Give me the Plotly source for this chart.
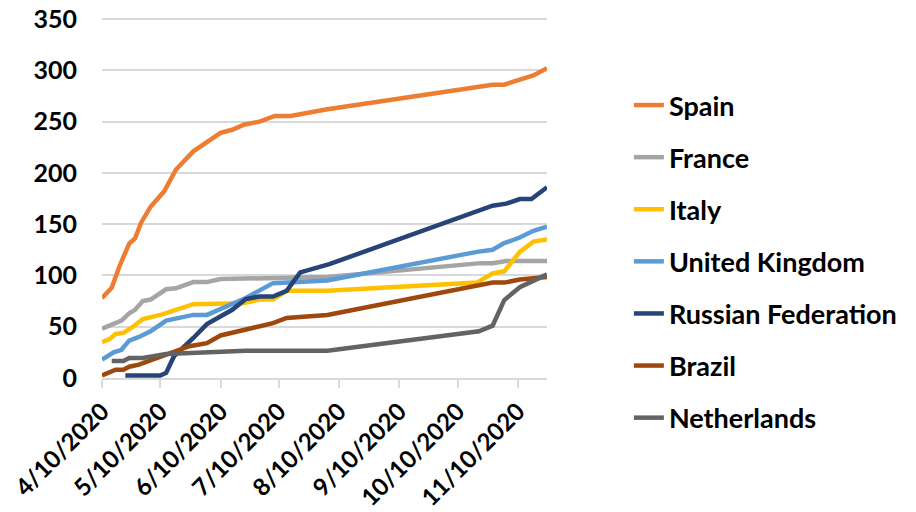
import plotly.graph_objects as go

series_names = ["Spain", "France", "Italy", "United Kingdom", "Russian Federation", "Brazil", "Netherlands"]
series_colors = ["#ED7D31", "#A5A5A5", "#FFC000", "#5B9BD5", "#264478", "#9E480E", "#636363"]

spain_dates = ["2020-04-10", "2020-04-15", "2020-04-19", "2020-04-24", "2020-04-27", "2020-04-30", "2020-05-05",
               "2020-05-12", "2020-05-18", "2020-05-27", "2020-06-03", "2020-06-10", "2020-06-16", "2020-06-22",
               "2020-06-30", "2020-07-08", "2020-07-16", "2020-07-21", "2020-08-04", "2020-10-28", "2020-11-03",
               "2020-11-11", "2020-11-18", "2020-11-25"]
spain_vals = [78, 88, 109, 131, 136, 151, 167, 182, 203, 221, 230, 239, 242, 247, 250, 255.5, 255.5, 257, 262,
              286, 286, 291, 295, 302]

france_dates = ["2020-04-10", "2020-04-16", "2020-04-20", "2020-04-24", "2020-04-27", "2020-05-01", "2020-05-05",
                "2020-05-13", "2020-05-18", "2020-05-27", "2020-06-03", "2020-06-10", "2020-08-04", "2020-10-22",
                "2020-10-28", "2020-11-04", "2020-11-25"]
france_vals = [48, 52.6, 56, 63, 66.5, 75, 76.5, 86.5, 87.5, 93.5, 93.5, 96.5, 98.5, 112, 112, 114, 114]

italy_dates = ["2020-04-10", "2020-04-14", "2020-04-17", "2020-04-21", "2020-04-26", "2020-05-01", "2020-05-11",
               "2020-05-18", "2020-05-27", "2020-06-22", "2020-06-30", "2020-07-07", "2020-07-14", "2020-08-04",
               "2020-10-20", "2020-10-28", "2020-11-03", "2020-11-11", "2020-11-18", "2020-11-25"]
italy_vals = [35, 38, 43, 44, 50, 57.5, 62, 66.5, 72, 73, 76.5, 76.5, 85, 85, 93, 102, 104, 123, 133, 135]

uk_dates = ["2020-04-10", "2020-04-16", "2020-04-20", "2020-04-24", "2020-04-29", "2020-05-05", "2020-05-13",
            "2020-05-22", "2020-05-27", "2020-06-03", "2020-06-13", "2020-06-23", "2020-07-07", "2020-08-04",
            "2020-10-20", "2020-10-28", "2020-11-03", "2020-11-11", "2020-11-18", "2020-11-25"]
uk_vals = [18, 25, 27.5, 36.5, 40, 45.5, 56, 60, 61.5, 61.5, 69.5, 78, 92.5, 95, 123, 125, 131.5, 137, 143.5, 147.5]

russia_dates = ["2020-04-22", "2020-05-10", "2020-05-13", "2020-05-17", "2020-05-27", "2020-06-03", "2020-06-16",
                "2020-06-23", "2020-06-30", "2020-07-07", "2020-07-14", "2020-07-21", "2020-08-05", "2020-10-28",
                "2020-11-04", "2020-11-11", "2020-11-17", "2020-11-25"]
russia_vals = [2.5, 2.5, 5, 21, 39, 52.5, 66.5, 77, 79.5, 79.5, 85, 103, 111, 168, 170, 174.5, 174.5, 186]

brazil_dates = ["2020-04-10", "2020-04-17", "2020-04-21", "2020-04-24", "2020-04-29", "2020-05-17", "2020-05-25",
                "2020-06-03", "2020-06-10", "2020-07-07", "2020-07-14", "2020-08-04", "2020-10-28", "2020-11-03",
                "2020-11-11", "2020-11-25"]
brazil_vals = [2.5, 8, 8, 11, 13, 26, 31, 34, 41.5, 53.5, 58.5, 61.5, 93, 93, 96, 98.5]

nl_dates = ["2020-04-15", "2020-04-21", "2020-04-24", "2020-05-01", "2020-05-13", "2020-05-27", "2020-06-03",
            "2020-06-10", "2020-06-16", "2020-06-23", "2020-08-04", "2020-10-21", "2020-10-28", "2020-11-03",
            "2020-11-11", "2020-11-25"]
nl_vals = [16.5, 16.5, 19.5, 19.5, 23.5, 24.5, 24.5, 25.5, 25.5, 26.5, 26.5, 45.5, 51, 76, 88.5, 101]

tick_dates = ["2020-04-10", "2020-05-10", "2020-06-10", "2020-07-10", "2020-08-10", "2020-09-10",
              "2020-10-10", "2020-11-10"]
tick_labels = ["4/10/2020", "5/10/2020", "6/10/2020", "7/10/2020", "8/10/2020", "9/10/2020",
               "10/10/2020", "11/10/2020"]
y_ticks = [0, 50, 100, 150, 200, 250, 300, 350]

all_dates = [spain_dates, france_dates, italy_dates, uk_dates, russia_dates, brazil_dates, nl_dates]
all_vals = [spain_vals, france_vals, italy_vals, uk_vals, russia_vals, brazil_vals, nl_vals]

FONT = "Lato"

fig = go.Figure()
for name, color, d, v in zip(series_names, series_colors, all_dates, all_vals):
    fig.add_trace(go.Scatter(
        x=d, y=v, name=name, mode="lines", legendgroup=name,
        line=dict(color=color, width=4.5),
    ))

fig.update_layout(
    width=916, height=512,
    margin=dict(l=102, r=369, t=18, b=134, autoexpand=False),
    paper_bgcolor="white", plot_bgcolor="white",
    font=dict(family=FONT, size=25, color="black", weight="bold"),
    showlegend=True,
    legend=dict(
        x=1.184, y=0.825, xanchor="left", yanchor="top",
        font=dict(family=FONT, size=27, color="black", weight="bold"),
        tracegroupgap=14, itemwidth=30, traceorder="grouped",
        bgcolor="rgba(0,0,0,0)", maxheight=500,
    ),
    xaxis=dict(
        type="date",
        range=["2020-04-10", "2020-11-25"],
        tickvals=tick_dates, ticktext=tick_labels,
        tickangle=-45,
        showgrid=False, zeroline=False,
        showline=True, linecolor="#D9D9D9", linewidth=1.5,
        ticks="outside", ticklen=8, tickcolor="#D9D9D9", tickwidth=1.5,
        tickfont=dict(family=FONT, size=24, color="black", weight="bold"),
        automargin=False, ticklabeloverflow="allow",
    ),
    yaxis=dict(
        range=[0, 351],
        tickvals=y_ticks,
        showgrid=True, gridcolor="#D9D9D9", gridwidth=1.5,
        zeroline=False, showline=False,
        ticks="", ticklabelstandoff=24,
        tickfont=dict(family=FONT, size=25, color="black", weight="bold"),
        automargin=False, ticklabeloverflow="allow",
    ),
)

fig.write_html("out.html", config={"displayModeBar": False},
               post_script="document.body.style.margin='0px';")
